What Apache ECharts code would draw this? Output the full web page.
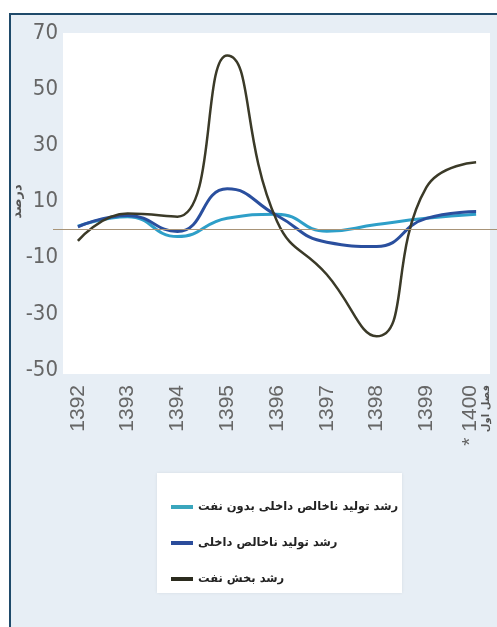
<!DOCTYPE html>
<html>
<head>
<meta charset="utf-8">
<script src="https://cdn.jsdelivr.net/npm/echarts@6/dist/echarts.min.js"></script>
<style>
html,body{margin:0;padding:0;background:#fff;}
#c{width:497px;height:627px;}
</style>
</head>
<body>
<div id="c"></div>
<script>
var categories = ['1392','1393','1394','1395','1396','1397','1398','1399','* 1400'];
var lastLabelNote = 'فصل اول';
var nonOilGdp = [1.2, 4.6, -2.5, 4, 5.5, -0.6, 1.8, 4, 5.5];
var gdp = [1, 5, -0.7, 14.5, 5, -4.5, -6, 4, 6.4];
var oilSector = [-4, 5.7, 4.6, 62, 3, -16, -38, 15, 24];
var seriesNames = ['رشد تولید ناخالص داخلی بدون نفت', 'رشد تولید ناخالص داخلی', 'رشد بخش نفت'];
var yTitle = 'درصد';

var chart = echarts.init(document.getElementById('c'));
var numFont = "'DejaVu Sans Condensed','Liberation Sans Narrow','Liberation Sans',sans-serif";
var faFont = "'DejaVu Sans','Noto Sans',sans-serif";

chart.setOption({
  backgroundColor: '#ffffff',
  animation: false,
  graphic: [
    {type:'rect', z:-10, shape:{x:10, y:14, width:500, height:620}, style:{fill:'#e7eef5', stroke:'#1f4a6a', lineWidth:2}},
    {type:'rect', z:-9, shape:{x:63, y:33, width:427, height:341}, style:{fill:'#ffffff'}},
    {type:'rect', z:-9, shape:{x:157, y:473, width:245, height:120}, style:{fill:'#ffffff', shadowBlur:3, shadowColor:'rgba(0,0,0,0.08)'}}
  ],
  grid: {left:53, right:-4, top:33, bottom:257, outerBoundsMode:'none', containLabel:false},
  legend: {
    orient:'vertical', left:166, top:494, itemGap:20,
    icon:'rect', itemWidth:22, itemHeight:4,
    textStyle:{fontFamily:faFont, fontWeight:'bold', fontSize:11.5, color:'#222', lineHeight:16},
    data: seriesNames
  },
  xAxis: {
    type:'category', data:categories, boundaryGap:true,
    axisLine:{show:false}, axisTick:{show:false}, splitLine:{show:false},
    axisLabel:{
      rotate:90, margin:15, interval:0,
      formatter: function (v, i) {
        return i === categories.length - 1 ? '{a|' + v + '}\n{b|' + lastLabelNote + '}' : '{a|' + v + '}';
      },
      rich: {
        a: {fontFamily:"'Liberation Sans',Arial,sans-serif", fontSize:21, color:'#666', lineHeight:20, align:'right'},
        b: {fontFamily:faFont, fontSize:10, fontWeight:'bold', color:'#555', lineHeight:12, align:'right'}
      }
    }
  },
  yAxis: {
    type:'value', min:-50, max:70, interval:20,
    name:yTitle, nameLocation:'middle', nameGap:29, nameMoveOverlap:false,
    nameTextStyle:{fontFamily:faFont, fontSize:13, fontWeight:'bold', color:'#555'},
    axisLine:{show:false}, axisTick:{show:false}, splitLine:{show:false},
    axisLabel:{margin:-5, fontFamily:numFont, fontSize:22, color:'#666'}
  },
  series: [
    {name:seriesNames[0], type:'line', data:nonOilGdp, smooth:0.5, showSymbol:false,
     lineStyle:{color:'#2e9fc8', width:3}, itemStyle:{color:'#3aa6bd'},
     markLine:{silent:true, symbol:'none', label:{show:false}, lineStyle:{color:'#a89478', width:1, type:'solid'}, data:[{yAxis:0}]}},
    {name:seriesNames[1], type:'line', data:gdp, smooth:0.5, showSymbol:false,
     lineStyle:{color:'#2a4f9e', width:3}, itemStyle:{color:'#2b4c9b'}},
    {name:seriesNames[2], type:'line', data:oilSector, smooth:0.5, showSymbol:false,
     lineStyle:{color:'#3b3a28', width:2.5}, itemStyle:{color:'#2b2b1e'}}
  ]
});
</script>
</body>
</html>
